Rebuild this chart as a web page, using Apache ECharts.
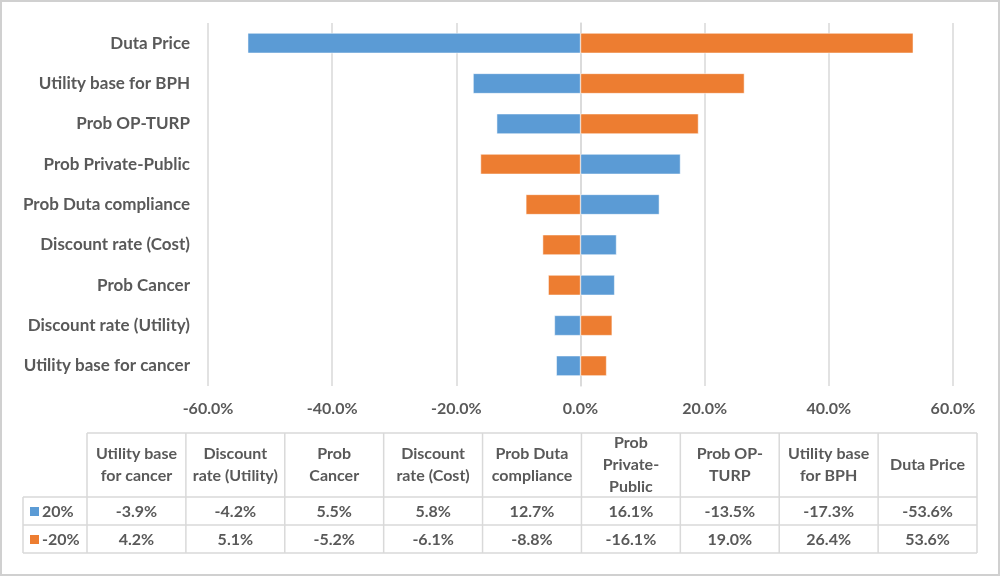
<!DOCTYPE html>
<html>
<head>
<meta charset="utf-8">
<script src="https://cdn.jsdelivr.net/npm/echarts@6/dist/echarts.min.js"></script>
<style>
  html, body { margin: 0; padding: 0; background: #fff; }
  #main { width: 1000px; height: 576px; }
</style>
</head>
<body>
<div id="main"></div>
<script>
// 类目（从下到上）
var categories = ['Utility base for cancer', 'Discount rate (Utility)', 'Prob Cancer', 'Discount rate (Cost)',
    'Prob Duta compliance', 'Prob Private-Public', 'Prob OP-TURP', 'Utility base for BPH', 'Duta Price'];
// 表头（带换行）
var tableHeaders = ['Utility base\nfor cancer', 'Discount\nrate (Utility)', 'Prob\nCancer', 'Discount\nrate (Cost)',
    'Prob Duta\ncompliance', 'Prob\nPrivate-\nPublic', 'Prob OP-\nTURP', 'Utility base\nfor BPH', 'Duta Price'];
var seriesNames = ['20%', '-20%'];
var plus20 = [-3.9, -4.2, 5.5, 5.8, 12.7, 16.1, -13.5, -17.3, -53.6];
var minus20 = [4.2, 5.1, -5.2, -6.1, -8.8, -16.1, 19.0, 26.4, 53.6];
var colors = ['#5b9bd5', '#ed7d31'];

var FONT = 'Lato';
var TXT = '#595959';
var LINE = '#d9d9d9';

var chart = echarts.init(document.getElementById('main'));

// 数据表（graphic 画）
var tLeft = 23, tCol0 = 87, tRight = 977;
var colW = (tRight - tCol0) / categories.length;
var yTop = 433, yHead = 497, yRow1 = 525, yRow2 = 553;
var graphics = [];

function hline(x1, x2, y) {
    graphics.push({ type: 'line', shape: { x1: x1, y1: y, x2: x2, y2: y }, style: { stroke: LINE, lineWidth: 1.5 }, silent: true });
}
function vline(x, y1, y2) {
    graphics.push({ type: 'line', shape: { x1: x, y1: y1, x2: x, y2: y2 }, style: { stroke: LINE, lineWidth: 1.5 }, silent: true });
}
hline(tCol0, tRight, yTop);
hline(tLeft, tRight, yHead);
hline(tLeft, tRight, yRow1);
hline(tLeft, tRight, yRow2);
vline(tLeft, yHead, yRow2);
for (var i = 0; i <= categories.length; i++) {
    vline(tCol0 + i * colW, yTop, yRow2);
}
var rowData = [plus20, minus20];
var rowY = [(yHead + yRow1) / 2 + 1, (yRow1 + yRow2) / 2 + 1];
for (var i = 0; i < categories.length; i++) {
    var cx = tCol0 + i * colW + colW / 2;
    graphics.push({
        type: 'text', x: cx, y: (yTop + yHead) / 2, silent: true,
        style: { text: tableHeaders[i], align: 'center', verticalAlign: 'middle', lineHeight: 22,
            font: 'bold 16px ' + FONT, fill: TXT }
    });
    for (var r = 0; r < 2; r++) {
        graphics.push({
            type: 'text', x: cx, y: rowY[r], silent: true,
            style: { text: rowData[r][i].toFixed(1) + '%', align: 'center', verticalAlign: 'middle',
                font: 'bold 16px ' + FONT, fill: TXT }
        });
    }
}
// 图例键
for (var r = 0; r < 2; r++) {
    graphics.push({ type: 'rect', shape: { x: 30, y: rowY[r] - 5, width: 9, height: 9 }, style: { fill: colors[r] }, silent: true });
    graphics.push({
        type: 'text', x: 42, y: rowY[r], silent: true,
        style: { text: seriesNames[r], align: 'left', verticalAlign: 'middle', font: 'bold 16px ' + FONT, fill: TXT }
    });
}
// 外框
graphics.push({ type: 'rect', shape: { x: 1, y: 1, width: 998, height: 574 }, style: { fill: 'none', stroke: '#d0d0d0', lineWidth: 2 }, silent: true });

var option = {
    backgroundColor: '#fff',
    animation: false,
    color: colors,
    textStyle: { fontFamily: FONT },
    grid: {
        left: 208,
        right: 47,
        top: 23,
        bottom: 190
    },
    xAxis: {
        type: 'value',
        min: -60,
        max: 60,
        interval: 20,
        axisLine: { show: false },
        axisTick: { show: false },
        splitLine: { show: true, lineStyle: { color: LINE, width: 1.5 } },
        axisLabel: {
            margin: 15,
            color: TXT,
            fontSize: 16,
            fontWeight: 'bold',
            formatter: function (v) { return v.toFixed(1) + '%'; }
        }
    },
    yAxis: {
        type: 'category',
        data: categories,
        axisLine: { show: true, onZero: true, lineStyle: { color: LINE, width: 1.5 } },
        axisTick: { show: false },
        axisLabel: {
            color: TXT,
            fontSize: 17,
            fontWeight: 'bold',
            margin: 18
        }
    },
    series: [
        {
            name: seriesNames[0],
            type: 'bar',
            data: plus20,
            barWidth: '50%',
            barGap: '-100%',
            itemStyle: { borderColor: '#fff', borderWidth: 0.5 }
        },
        {
            name: seriesNames[1],
            type: 'bar',
            data: minus20,
            barWidth: '50%',
            barGap: '-100%',
            itemStyle: { borderColor: '#fff', borderWidth: 0.5 }
        }
    ],
    graphic: graphics
};

option && chart.setOption(option);
</script>
</body>
</html>
